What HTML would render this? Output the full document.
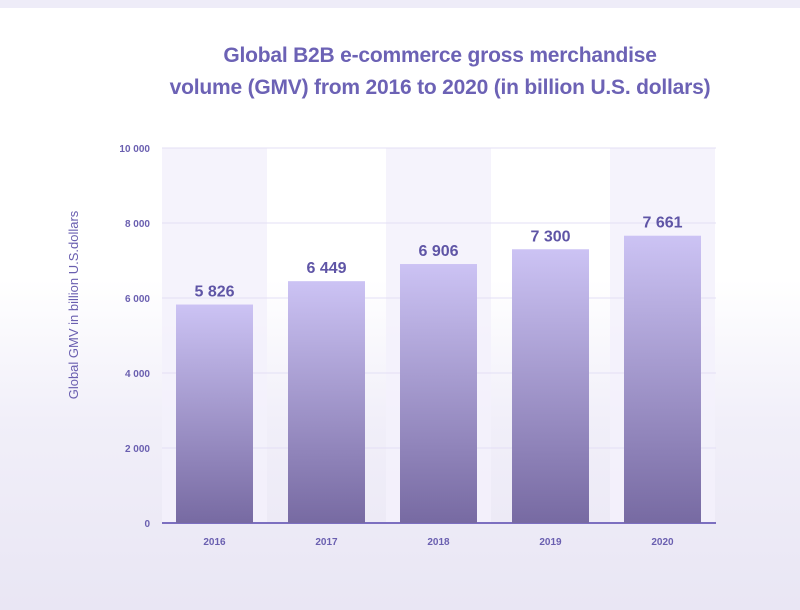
<!DOCTYPE html>
<html><head><meta charset="utf-8"><style>
html,body{margin:0;padding:0}
body{width:800px;height:610px;overflow:hidden;background:linear-gradient(#fff 0,#fff 280px,#f1eff9 420px,#e9e6f4 610px);font-family:"Liberation Sans",sans-serif;position:relative}
.strip{position:absolute;left:0;top:0;width:800px;height:8px;background:#eeecf8}
.title{position:absolute;left:0;width:880px;text-align:center;top:40px;font-size:21px;font-weight:bold;line-height:32px;color:#6c62b5;letter-spacing:-0.2px}
svg{position:absolute;left:0;top:0}
</style></head><body>
<div class="strip"></div>
<div class="title">Global B2B e-commerce gross merchandise<br>volume (GMV) from 2016 to 2020 (in billion U.S. dollars)</div>
<svg id="chart" width="800" height="610">
<defs><linearGradient id="bg" x1="0" y1="0" x2="0" y2="1"><stop offset="0" stop-color="#ccc3f4"/><stop offset="1" stop-color="#776aa2"/></linearGradient></defs>
</svg>
<script>
const categories=["2016","2017","2018","2019","2020"];
const values=[5826,6449,6906,7300,7661];
const valueLabels=["5 826","6 449","6 906","7 300","7 661"];
const ticks=[0,2000,4000,6000,8000,10000];
const tickLabels=["0","2 000","4 000","6 000","8 000","10 000"];
const svg=document.getElementById('chart');const NS='http://www.w3.org/2000/svg';
const y0=523,yTop=148,max=10000,x0=162,step=112,band=105,barW=77;
const y=v=>y0-(v/max)*(y0-yTop);
const xb=i=>x0+i*step;
function mk(t,a,p){const e=document.createElementNS(NS,t);for(const k in a)e.setAttribute(k,a[k]);(p||svg).appendChild(e);return e;}
categories.forEach((c,i)=>{if(i%2===0){const r=mk('rect',{x:xb(i),y:yTop,width:band,height:y0-yTop,fill:'#f3f1fb',opacity:0.85});

}});
ticks.forEach((t,i)=>{const l=mk('line',{x1:x0,x2:716,y1:y(t),y2:y(t),stroke:i===0?'#7c6fc0':'#e3dff5','stroke-width':i===0?2:1});


const tx=mk('text',{x:150,y:y(t)+4,'text-anchor':'end','font-size':10,'font-weight':'bold',fill:'#6a5fb0'});tx.textContent=tickLabels[i];

});
categories.forEach((c,i)=>{const bx=xb(i)+14;
const r=mk('rect',{x:bx,y:y(values[i]),width:barW,height:y0-y(values[i]),fill:'url(#bg)'});


const vt=mk('text',{x:bx+barW/2,y:y(values[i])-8,'text-anchor':'middle','font-size':16,'font-weight':'bold',fill:'#5f55a6'});vt.textContent=valueLabels[i];


const ct=mk('text',{x:bx+barW/2,y:545,'text-anchor':'middle','font-size':10,'font-weight':'bold',fill:'#6a5fb0'});ct.textContent=c;

});
const yt=mk('text',{x:0,y:0,transform:'translate(78,305) rotate(-90)','text-anchor':'middle','font-size':13,fill:'#6a5fb0'});yt.textContent='Global GMV in billion U.S.dollars';


</script>
</body></html>
